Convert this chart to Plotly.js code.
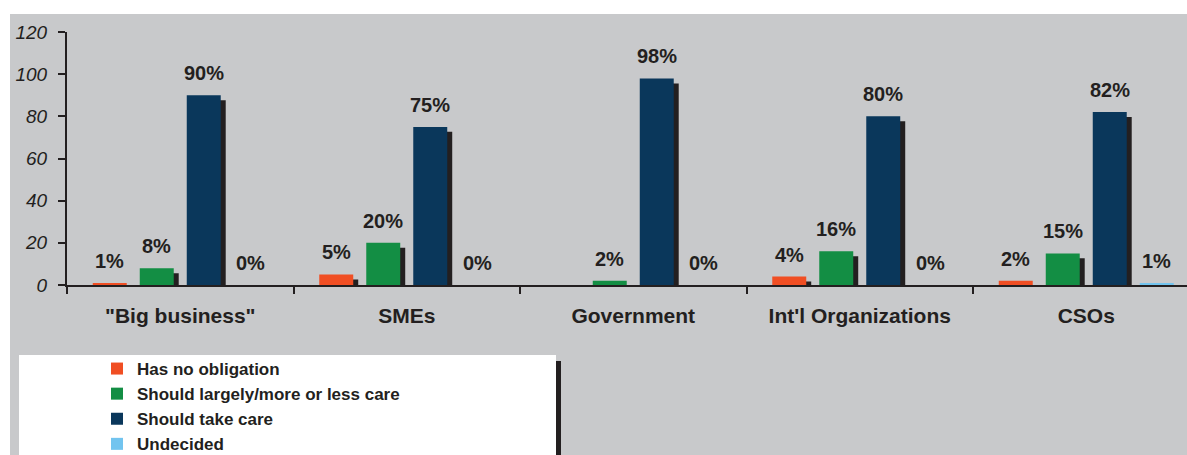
<!DOCTYPE html>
<html><head><meta charset="utf-8">
<script src="https://cdn.plot.ly/plotly-3.0.1.min.js"></script>
<style>
html,body{margin:0;padding:0;width:1187px;height:455px;overflow:hidden;background:#fff;}
#bg{position:absolute;left:10px;top:14px;width:1177px;height:441px;background:#c8c9cb;}
#legbox{position:absolute;left:19px;top:355px;width:537px;height:100px;background:#fff;}
#legshadow{position:absolute;left:556px;top:361px;width:5px;height:94px;background:#231f20;}
#chart{position:absolute;left:0;top:0;width:1187px;height:455px;}
</style></head><body>
<div id="bg"></div><div id="legbox"></div><div id="legshadow"></div><div id="chart"></div>
<script>
const categories = ['"Big business"', 'SMEs', 'Government', "Int'l Organizations", 'CSOs'];
const seriesNames = ['Has no obligation', 'Should largely/more or less care', 'Should take care', 'Undecided'];
const hasNoObligation = [1, 5, null, 4, 2];
const shouldLargelyCare = [8, 20, 2, 16, 15];
const shouldTakeCare = [90, 75, 98, 80, 82];
const undecided = [0, 0, 0, 0, 1];
const yTickVals = [0, 20, 40, 60, 80, 100, 120];

const series = [hasNoObligation, shouldLargelyCare, shouldTakeCare, undecided];
const colors = ['#f04e23', '#138e44', '#0a375b', '#72c4ef'];
const INK = '#231f20';
const FONT = 'Arial, "Liberation Sans", Helvetica, sans-serif';

// style constants (category units / value units)
const pitch = 0.2075, barW = 0.150;
const shadowDX = 0.022, shadowDY = 2.37;

const shadowTraces = [], mainTraces = [], annotations = [];
series.forEach((vals, i) => {
  const center = (i - 1.5) * pitch;
  const off = center - barW / 2;
  shadowTraces.push({
    type: 'bar', x: categories, y: vals.map(v => (v == null || v - shadowDY <= 0) ? null : v - shadowDY),
    width: barW, offset: off + shadowDX, marker: {color: INK}, showlegend: false, hoverinfo: 'skip'
  });
  mainTraces.push({
    type: 'bar', name: seriesNames[i], x: categories, y: vals,
    width: barW, offset: off, marker: {color: colors[i]}
  });
  vals.forEach((v, c) => {
    if (v == null) return;
    annotations.push({
      x: c + center, y: v, xref: 'x', yref: 'y', text: v + '%', showarrow: false,
      yanchor: 'bottom', xanchor: 'center', yshift: 9,
      font: {family: FONT, size: 20, color: INK, weight: 'bold'}
    });
  });
});

const layout = {
  width: 1187, height: 455,
  margin: {l: 67, r: 0, t: 32, b: 0, pad: 0, autoexpand: false},
  paper_bgcolor: 'rgba(0,0,0,0)', plot_bgcolor: 'rgba(0,0,0,0)',
  barmode: 'overlay',
  showlegend: true,
  legend: {
    x: 0.0268, y: (455 - 351) / 423, xanchor: 'left', yanchor: 'top',
    bgcolor: 'rgba(0,0,0,0)', font: {family: FONT, size: 17, color: INK, weight: 'bold'},
    tracegroupgap: 0, traceorder: 'normal'
  },
  xaxis: {
    type: 'category', range: [-0.5, -0.5 + 1120 / 226.5], fixedrange: true, automargin: false,
    showline: true, linecolor: INK, linewidth: 2,
    ticks: 'outside', tickson: 'boundaries', ticklen: 7, tickwidth: 2, tickcolor: INK,
    showgrid: false, zeroline: false, ticklabelstandoff: 11,
    tickfont: {family: FONT, size: 21, color: INK, weight: 'bold'}
  },
  yaxis: {
    domain: [(455 - 285) / 423, 1], automargin: false,
    range: [0, 120], tickvals: yTickVals, fixedrange: true,
    showline: true, linecolor: INK, linewidth: 2,
    ticks: 'outside', ticklen: 7, tickwidth: 2, tickcolor: INK,
    showgrid: false, zeroline: false, ticklabelstandoff: 7,
    tickfont: {family: FONT, size: 19, color: INK, style: 'italic'}
  },
  annotations: annotations
};

Plotly.newPlot('chart', shadowTraces.concat(mainTraces), layout, {displayModeBar: false, staticPlot: true});
</script>
</body></html>
